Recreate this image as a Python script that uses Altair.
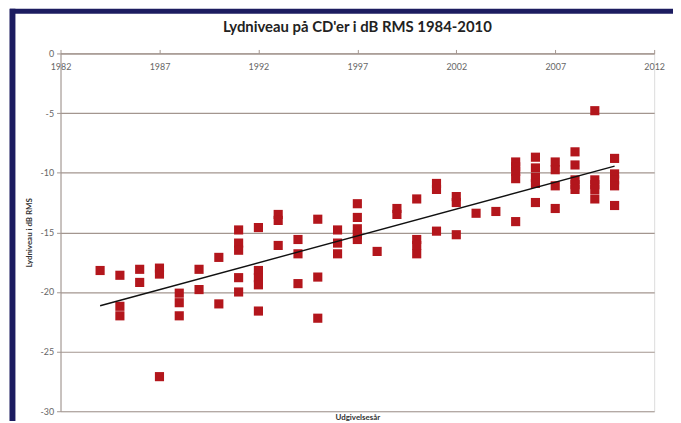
import altair as alt
import pandas as pd

years = [
    1984,
    1985, 1985, 1985,
    1986, 1986,
    1987, 1987, 1987,
    1988, 1988, 1988,
    1989, 1989,
    1990, 1990,
    1991, 1991, 1991, 1991, 1991,
    1992, 1992, 1992, 1992, 1992,
    1993, 1993, 1993,
    1994, 1994, 1994,
    1995, 1995, 1995,
    1996, 1996, 1996,
    1997, 1997, 1997, 1997, 1997,
    1998,
    1999, 1999,
    2000, 2000, 2000, 2000,
    2001, 2001, 2001,
    2002, 2002, 2002,
    2003,
    2004,
    2005, 2005, 2005, 2005, 2005,
    2006, 2006, 2006, 2006, 2006,
    2007, 2007, 2007, 2007,
    2008, 2008, 2008, 2008, 2008,
    2009, 2009, 2009, 2009, 2009,
    2010, 2010, 2010, 2010, 2010,
]
levels = [
    -18.2,
    -18.6, -21.2, -22.0,
    -18.1, -19.2,
    -18.0, -18.5, -27.1,
    -20.1, -20.9, -22.0,
    -18.1, -19.8,
    -17.1, -21.0,
    -14.8, -15.9, -16.5, -18.8, -20.0,
    -14.6, -18.2, -18.8, -19.4, -21.6,
    -13.5, -14.0, -16.1,
    -15.6, -16.8, -19.3,
    -13.9, -18.75, -22.2,
    -14.8, -15.9, -16.8,
    -12.6, -13.75, -14.7, -15.2, -15.6,
    -16.6,
    -13.0, -13.5,
    -12.2, -15.6, -16.1, -16.8,
    -10.9, -11.4, -14.9,
    -12.0, -12.5, -15.2,
    -13.4,
    -13.25,
    -9.1, -9.5, -9.9, -10.5, -14.1,
    -8.7, -9.6, -10.4, -10.9, -12.5,
    -9.1, -9.75, -11.1, -13.0,
    -8.25, -9.35, -10.6, -11.0, -11.4,
    -4.8, -10.6, -11.0, -11.4, -12.2,
    -8.8, -10.1, -10.6, -11.1, -12.75,
]
x_ticks = [1982, 1987, 1992, 1997, 2002, 2007, 2012]
y_ticks = [0, -5, -10, -15, -20, -25, -30]

df = pd.DataFrame({"year": years, "db": levels})

W, H = 599, 361
GRID = "#a3968f"
NAVY = "#1c1c60"
FONT = "Lato"

x_enc = alt.X(
    "year:Q",
    scale=alt.Scale(domain=[1982, 2012], nice=False, zero=False),
    axis=alt.Axis(
        orient="top", values=x_ticks, format="d", grid=False,
        tickSize=4, tickColor=GRID, domainColor=GRID,
        labelPadding=-22, labelFlush=False, labelOverlap=False,
        labelFont=FONT, labelFontSize=9, labelColor="#666666",
        title="Udgivelsesår", titleX=W / 2, titleY=H + 6,
        titleBaseline="middle", titleAlign="center",
        titleFont=FONT, titleFontSize=8, titleFontWeight="bold", titleColor="#333333",
    ),
)
y_enc = alt.Y(
    "db:Q",
    scale=alt.Scale(domain=[-30, 0], nice=False, zero=False),
    axis=alt.Axis(
        values=y_ticks, grid=True, gridColor=GRID, gridWidth=1.2, gridOpacity=1,
        tickSize=4, tickColor=GRID, domainColor=GRID,
        labelExpr="toString(datum.value)", labelPadding=3,
        labelFont=FONT, labelFontSize=9, labelColor="#666666",
        title="Lydniveau i dB RMS", titleX=-31, titleY=H / 2, titleAngle=-90,
        titleBaseline="middle", titleAlign="center",
        titleFont=FONT, titleFontSize=8, titleFontWeight="bold", titleColor="#333333",
    ),
)

base = alt.Chart(df)
points = base.mark_square(size=85, color="#b3161c", opacity=1).encode(x=x_enc, y=y_enc)
trend = base.transform_regression("year", "db").mark_line(color="#111111", strokeWidth=1.4).encode(
    x="year:Q", y="db:Q"
)

one = pd.DataFrame({"k": [0]})
frame_top = alt.Chart(one).mark_rule(color=NAVY, strokeWidth=5).encode(
    x=alt.value(-51), x2=alt.value(660), y=alt.value(-42.5)
)
frame_left = alt.Chart(one).mark_rule(color=NAVY, strokeWidth=6).encode(
    x=alt.value(-48.5), y=alt.value(-45), y2=alt.value(H + 20)
)

chart = (
    alt.layer(points, trend, frame_top, frame_left)
    .properties(
        width=W, height=H,
        title=alt.TitleParams(
            text="Lydniveau på CD'er i dB RMS 1984-2010",
            font=FONT, fontSize=15, fontWeight="bold", color="#222222",
            anchor="middle", offset=0, dy=29,
        ),
        padding={"left": 53, "top": 44, "right": 19, "bottom": 8},
        autosize=alt.AutoSizeParams(type="none"),
    )
    .configure_view(stroke=None)
    .configure(background="white")
)

chart.save("out.html", embed_options={"renderer": "svg", "actions": False})
